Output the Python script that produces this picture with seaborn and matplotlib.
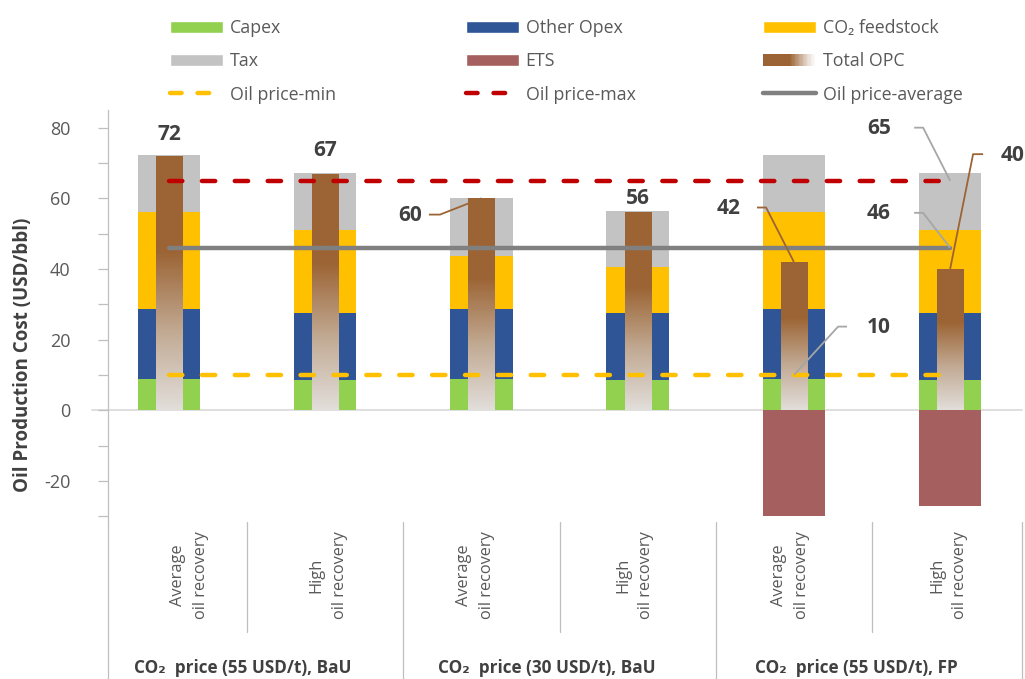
import numpy as np
import matplotlib
matplotlib.use("Agg")
import matplotlib.pyplot as plt
import seaborn as sns
from matplotlib.patches import Patch, Rectangle
from matplotlib.lines import Line2D
from matplotlib.legend_handler import HandlerBase
from matplotlib.colors import LinearSegmentedColormap

# ---------------- data ----------------
case_labels = ["Average\noil recovery", "High\noil recovery",
               "Average\noil recovery", "High\noil recovery",
               "Average\noil recovery", "High\noil recovery"]
group_labels = ["CO\u2082  price (55 USD/t), BaU",
                "CO\u2082  price (30 USD/t), BaU",
                "CO\u2082  price (55 USD/t), FP"]
capex = [8.8, 8.5, 8.8, 8.5, 8.8, 8.5]
other_opex = [19.8, 19.0, 19.8, 19.0, 19.8, 19.0]
co2_feedstock = [27.6, 23.6, 15.0, 13.0, 27.6, 23.6]
tax = [16.0, 16.2, 16.4, 16.0, 16.1, 16.2]
ets = [0, 0, 0, 0, -30.0, -27.2]
total_opc = [72, 67, 60, 56, 42, 40]
oil_price_min = [10, 10, 10, 10, 10, 10]
oil_price_max = [65, 65, 65, 65, 65, 65]
oil_price_avg = [46, 46, 46, 46, 46, 46]
y_ticks = [-20, 0, 20, 40, 60, 80]

# ---------------- style ----------------
C_CAPEX = "#92D050"
C_OPEX = "#2F5597"
C_CO2 = "#FFC000"
C_TAX = "#C3C3C3"
C_ETS = "#A65F5F"
C_OPC = "#9C6434"
C_MIN = "#FFC000"
C_MAX = "#C00000"
C_AVG = "#808080"
C_TXT = "#404040"
C_TICK = "#595959"
C_GRID = "#BFBFBF"

sns.set_theme(style="white")
plt.rcParams["font.family"] = ["Open Sans", "DejaVu Sans"]

W, H = 1025, 679
fig = plt.figure(figsize=(W / 100, H / 100), dpi=100)
ax_l, ax_r, ax_t, ax_b = 108, 1022, 110, 522
ax = fig.add_axes([ax_l / W, 1 - ax_b / H, (ax_r - ax_l) / W, (ax_b - ax_t) / H])

idx = np.arange(len(total_opc))
stack = np.cumsum(np.array([capex, other_opex, co2_feedstock, tax]), axis=0)

# stacked bars drawn tallest first
for level, color in [(3, C_TAX), (2, C_CO2), (1, C_OPEX), (0, C_CAPEX)]:
    sns.barplot(x=idx, y=stack[level], color=color, saturation=1, width=0.4,
                errorbar=None, linewidth=0, ax=ax)
sns.barplot(x=idx, y=ets, color=C_ETS, saturation=1, width=0.4,
            errorbar=None, linewidth=0, ax=ax)

n0 = len(ax.patches)
sns.barplot(x=idx, y=total_opc, color=C_OPC, saturation=1, width=0.167,
            errorbar=None, linewidth=0, ax=ax)
opc_patches = ax.patches[n0:]

cmap_v = LinearSegmentedColormap.from_list(
    "opc_v", [(0.0, "#E2DEDA"), (0.3, "#C2AB95"), (0.62, "#9C6434"), (1.0, "#9C6434")])
grad = np.linspace(0, 1, 256).reshape(-1, 1)
for p in opc_patches:
    x0, w, h = p.get_x(), p.get_width(), p.get_height()
    if h <= 0:
        continue
    im = ax.imshow(grad, extent=[x0, x0 + w, 0, h], origin="lower", aspect="auto",
                   cmap=cmap_v, zorder=p.get_zorder() + 0.1, interpolation="bilinear")
    im.set_clip_path(p)

# oil price lines
dash = (0, (3.0, 4.4))
ax.plot(idx, oil_price_max, color=C_MAX, lw=3.2, linestyle=dash,
        dash_capstyle="round", zorder=5)
ax.plot(idx, oil_price_min, color=C_MIN, lw=3.2, linestyle=dash,
        dash_capstyle="round", zorder=5)
ax.plot(idx, oil_price_avg, color=C_AVG, lw=3.2, solid_capstyle="round", zorder=5)

# ---------------- axes ----------------
x_left, x_right = -0.39, 5.46
ax.set_xlim(x_left, x_right)
ax.set_ylim(-31.6, 85)
ax.set_xticks([])
ax.set_xlabel("")
ax.set_yticks(y_ticks)
ax.set_yticks([-30, -10, 10, 30, 50, 70], minor=True)
ax.set_yticklabels([str(v) for v in y_ticks])
ax.tick_params(axis="y", which="both", direction="out", length=7, width=0.9,
               color=C_GRID, labelcolor=C_TICK, labelsize=13, pad=20, left=True)
for s in ["top", "right", "bottom"]:
    ax.spines[s].set_visible(False)
ax.spines["left"].set_color(C_GRID)
ax.spines["left"].set_linewidth(0.9)
ax.set_ylabel("Oil Production Cost (USD/bbl)", fontsize=13.5, fontweight="bold",
              color=C_TXT)
ax.yaxis.set_label_coords(-0.082, 0.405)

# zero baseline
ax.plot([-0.0175, 1], [0, 0], transform=ax.get_yaxis_transform(), clip_on=False,
        color="#D9D9D9", lw=1.2, zorder=0.5)

# category separators
xt = ax.get_xaxis_transform()
y_fig_bottom = -(H - ax_b) / (ax_b - ax_t)
y_inner_bottom = -(632 - ax_b) / (ax_b - ax_t)
ax.plot([x_left, x_left], [0, y_fig_bottom], transform=xt, clip_on=False,
        color=C_GRID, lw=0.9)
ax.plot([x_right, x_right], [0, y_fig_bottom], transform=xt, clip_on=False,
        color=C_GRID, lw=0.9)
for xs in [0.5, 2.5, 4.5]:
    ax.plot([xs, xs], [0, y_inner_bottom], transform=xt, clip_on=False,
            color=C_GRID, lw=0.9)
for xs in [1.5, 3.5]:
    ax.plot([xs, xs], [0, y_fig_bottom], transform=xt, clip_on=False,
            color=C_GRID, lw=0.9)

case_label_x = [0.13, 1.02, 1.96, 2.98, 3.98, 4.99]
y_case = -(575 - ax_b) / (ax_b - ax_t)
for xm, lab in zip(case_label_x, case_labels):
    ax.text(xm, y_case, lab, transform=xt, rotation=90, ha="center", va="center",
            multialignment="center", fontsize=11.8, color=C_TICK, linespacing=1.6)
y_group = -(668 - ax_b) / (ax_b - ax_t)
group_bounds = [(x_left, 1.5), (1.5, 3.5), (3.5, x_right)]
for (a, b), lab in zip(group_bounds, group_labels):
    ax.text((a + b) / 2 - 0.08, y_group, lab, transform=xt, ha="center", va="center",
            fontsize=12.3, fontweight="bold", color=C_TXT)

# ---------------- data labels ----------------
lab_kw = dict(fontsize=15, fontweight="bold", color=C_TXT, ha="center", va="center",
              zorder=7)
# direct labels above bars (offset in data units)
for i, off in [(0, 6.2), (1, 6.4), (3, 4.0)]:
    ax.text(i, total_opc[i] + off, str(total_opc[i]), **lab_kw)


def leader(tx, ty, lx0, lx1, px, py, text, color):
    ax.text(tx, ty, text, **lab_kw)
    ax.plot([lx0, lx1, px], [ty + 0.3, ty + 0.3, py], color=color, lw=1.3,
            zorder=6, solid_capstyle="butt")


leader(1.543, 55.1, 1.664, 1.735, 2, total_opc[2], str(total_opc[2]), C_OPC)
leader(3.579, 57.1, 3.764, 3.822, 4, total_opc[4], str(total_opc[4]), C_OPC)
leader(5.397, 72.2, 5.211, 5.147, 5, total_opc[5], str(total_opc[5]), C_OPC)
leader(4.545, 79.7, 4.77, 4.827, 5, oil_price_max[5], str(oil_price_max[5]), "#A6A6A6")
leader(4.545, 55.6, 4.77, 4.827, 5, oil_price_avg[5], str(oil_price_avg[5]), "#A6A6A6")
leader(4.545, 23.4, 4.34, 4.283, 4, oil_price_min[4], str(oil_price_min[4]), "#A6A6A6")

# ---------------- legend ----------------
cmap_h = LinearSegmentedColormap.from_list(
    "opc_h", [(0.0, "#9C6434"), (0.5, "#9C6434"), (0.85, "#E6DCD2"), (1.0, "#FFFFFF")])


class GradientHandle:
    pass


class HandlerGradient(HandlerBase):
    def create_artists(self, legend, orig_handle, xdescent, ydescent, width, height,
                       fontsize, trans):
        n = 40
        arts = []
        for k in range(n):
            r = Rectangle((-xdescent + k * width / n, -ydescent), width / n * 1.08, height,
                          facecolor=cmap_h(k / (n - 1)), edgecolor="none", lw=0,
                          transform=trans)
            arts.append(r)
        return arts


grad_handle = GradientHandle()
leg_dash = (0, (2.6, 3.6))
cols = [
    ([Patch(facecolor=C_CAPEX), Patch(facecolor=C_TAX),
      Line2D([], [], color=C_MIN, lw=3.2, linestyle=leg_dash, dash_capstyle="round")],
     ["Capex", "Tax", "Oil price-min"], 170),
    ([Patch(facecolor=C_OPEX), Patch(facecolor=C_ETS),
      Line2D([], [], color=C_MAX, lw=3.2, linestyle=leg_dash, dash_capstyle="round")],
     ["Other Opex", "ETS", "Oil price-max"], 466),
    ([Patch(facecolor=C_CO2), grad_handle,
      Line2D([], [], color=C_AVG, lw=3.2, solid_capstyle="round")],
     ["CO\u2082 feedstock", "Total OPC", "Oil price-average"], 763),
]
for handles, labels, xpx in cols:
    fig.legend(handles, labels, loc="upper left", bbox_to_anchor=(xpx / W, 1 - 19 / H),
               frameon=False, fontsize=12.8, handlelength=3.0, handleheight=0.7,
               handletextpad=0.35, labelspacing=0.86, borderpad=0, borderaxespad=0,
               labelcolor=C_TICK, handler_map={GradientHandle: HandlerGradient()})

fig.savefig("out.png", dpi=100)
